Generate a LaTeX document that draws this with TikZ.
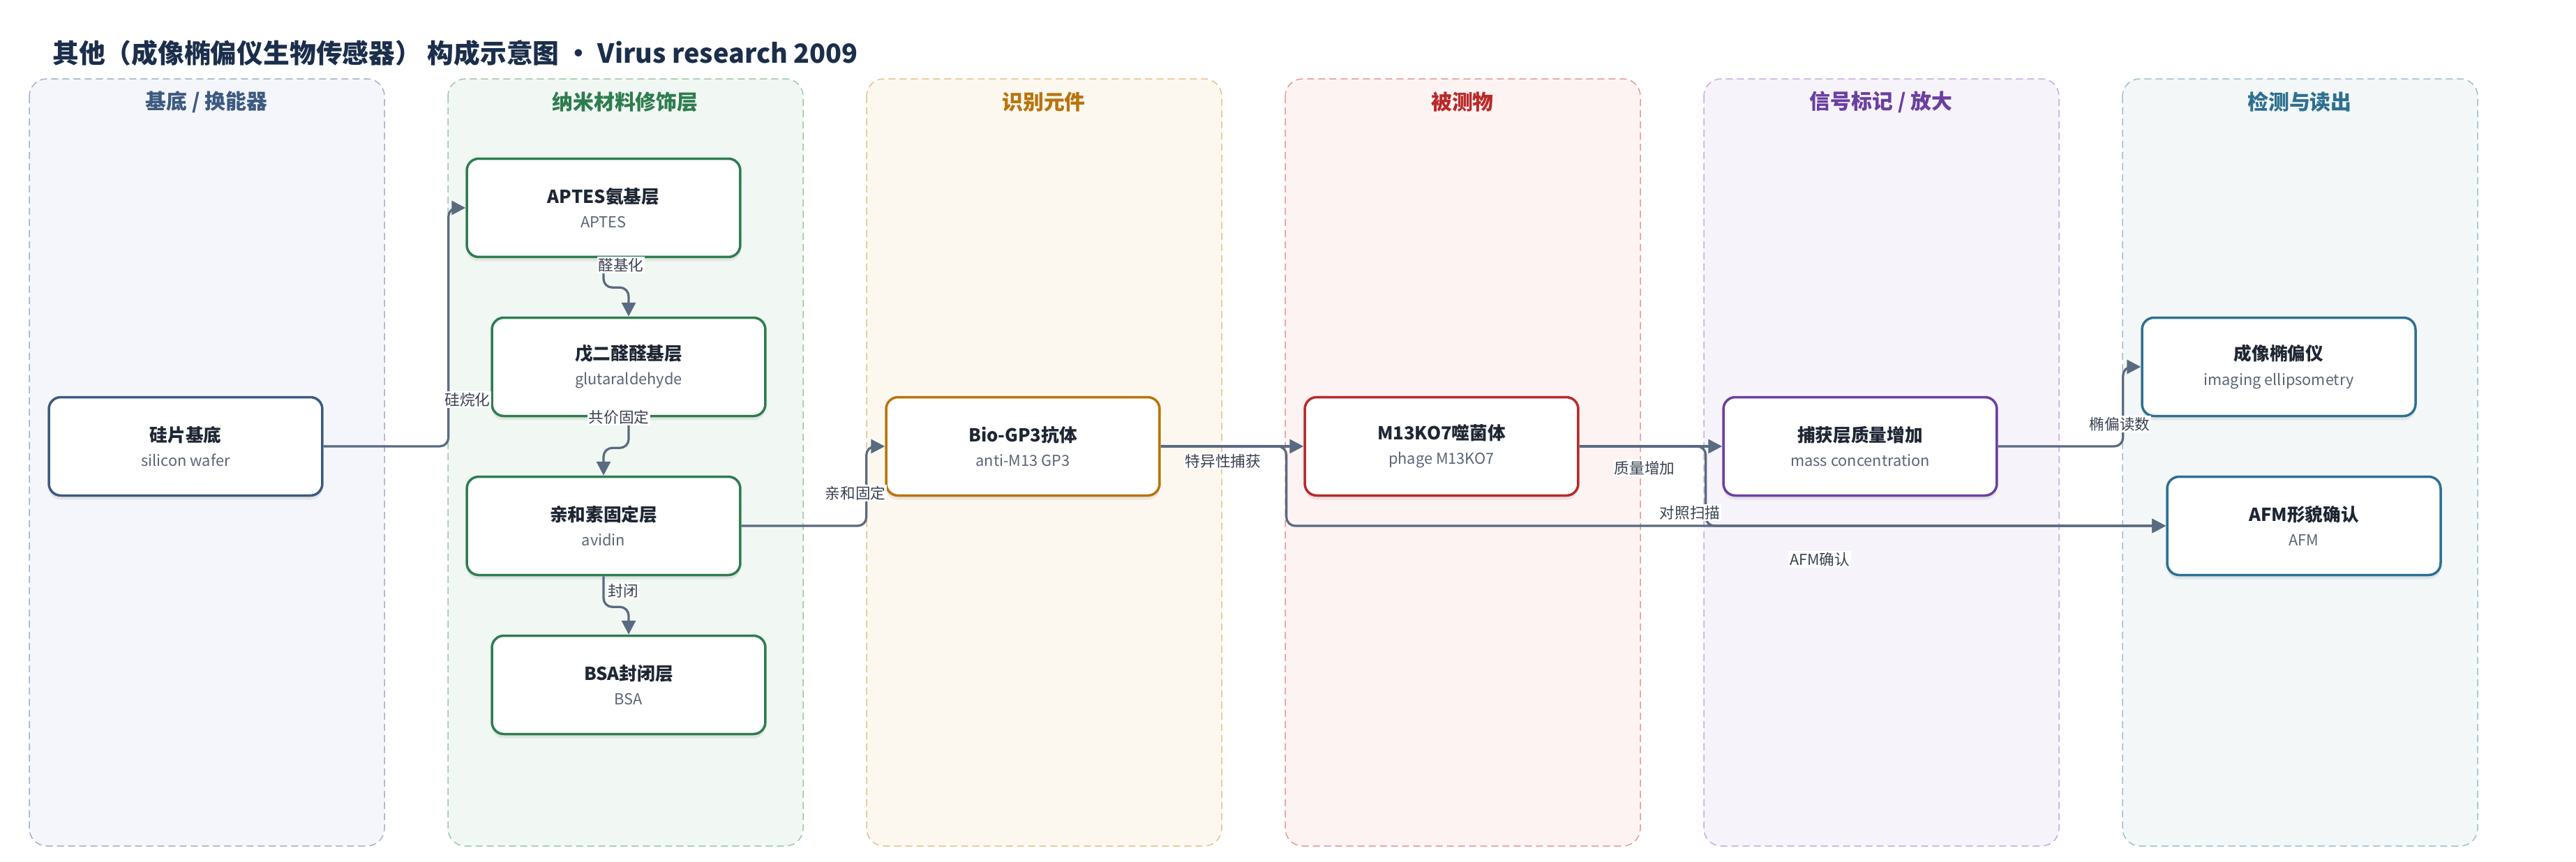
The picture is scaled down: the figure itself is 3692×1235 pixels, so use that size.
\documentclass[tikz,border=0pt]{standalone}
\usepackage{fontspec}
\setmainfont{Noto Sans CJK SC}
\usetikzlibrary{arrows.meta,shadows}

\definecolor{titlecol}{HTML}{1B2E4B}
\definecolor{maincol}{HTML}{1F2633}
\definecolor{subcol}{HTML}{5B6576}
\definecolor{edgecol}{HTML}{5A6A80}
\definecolor{labelcol}{HTML}{3A4150}
\definecolor{navy}{HTML}{3D5A80}
\definecolor{navyline}{HTML}{A3B1C9}
\definecolor{navyfill}{HTML}{F4F6FB}
\definecolor{grn}{HTML}{2E7D4F}
\definecolor{grnline}{HTML}{9DC7A9}
\definecolor{grnfill}{HTML}{F1F8F3}
\definecolor{orng}{HTML}{B8740C}
\definecolor{orngline}{HTML}{E3C48C}
\definecolor{orngfill}{HTML}{FDF8EF}
\definecolor{rd}{HTML}{B82A2A}
\definecolor{rdline}{HTML}{E39A9A}
\definecolor{rdfill}{HTML}{FDF3F2}
\definecolor{purp}{HTML}{6A3FA0}
\definecolor{purpline}{HTML}{C4ADE0}
\definecolor{purpfill}{HTML}{F7F3FB}
\definecolor{teal}{HTML}{2E7090}
\definecolor{tealline}{HTML}{9FC0CC}
\definecolor{tealfill}{HTML}{F3F7F8}

\newcommand{\boxtext}[2]{{\fontsize{14.6pt}{20pt}\selectfont\bfseries\color{maincol}#1}\\{\color{subcol}#2}}

\tikzstyle{lane} = [rounded corners=0.5cm, dash pattern=on 0.2cm off 0.12cm, line width=0.03cm]
\tikzstyle{lanetitle} = [font=\fontsize{17pt}{20pt}\selectfont\bfseries]
\tikzstyle{box} = [rectangle, rounded corners=0.34cm, line width=0.07cm, fill=white, minimum width=7.84cm, minimum height=2.82cm, align=center, font=\fontsize{12.4pt}{20pt}\selectfont, drop shadow={shadow xshift=0cm, shadow yshift=-0.12cm, opacity=0.15}]
\tikzstyle{edge} = [draw=edgecol, line width=0.065cm, rounded corners=0.25cm, -{Triangle[length=0.4cm,width=0.4cm]}]
\tikzstyle{elabel} = [fill=white, inner sep=1pt, text=labelcol, font=\fontsize{12.3pt}{14pt}\selectfont]

\begin{document}
\begin{tikzpicture}[x=0.02cm, y=-0.02cm]

    \useasboundingbox (0,0) rectangle (3692,1235);

    \node (title) [anchor=west, text=titlecol, font=\fontsize{21.5pt}{24pt}\selectfont\bfseries, inner sep=0pt] at (75,76) {其他（成像椭偏仪生物传感器） 构成示意图 · Virus research 2009};

    \draw[lane, draw=navyline, fill=navyfill] (42,113) rectangle (551,1213);
    \draw[lane, draw=grnline, fill=grnfill] (642,113) rectangle (1151,1213);
    \draw[lane, draw=orngline, fill=orngfill] (1242,113) rectangle (1751,1213);
    \draw[lane, draw=rdline, fill=rdfill] (1842,113) rectangle (2351,1213);
    \draw[lane, draw=purpline, fill=purpfill] (2442,113) rectangle (2951,1213);
    \draw[lane, draw=tealline, fill=tealfill] (3042,113) rectangle (3551,1213);

    \node (lane1) [lanetitle, text=navy] at (296,146) {基底 / 换能器};
    \node (lane2) [lanetitle, text=grn] at (896,146) {纳米材料修饰层};
    \node (lane3) [lanetitle, text=orng] at (1496,146) {识别元件};
    \node (lane4) [lanetitle, text=rd] at (2096,146) {被测物};
    \node (lane5) [lanetitle, text=purp] at (2696,146) {信号标记 / 放大};
    \node (lane6) [lanetitle, text=teal] at (3296,146) {检测与读出};

    \node (si) [box, draw=navy] at (266,640) {\boxtext{硅片基底}{silicon wafer}};
    \node (aptes) [box, draw=grn] at (865,298) {\boxtext{APTES氨基层}{APTES}};
    \node (glut) [box, draw=grn] at (901,526) {\boxtext{戊二醛醛基层}{glutaraldehyde}};
    \node (avidin) [box, draw=grn] at (865,754) {\boxtext{亲和素固定层}{avidin}};
    \node (bsa) [box, draw=grn] at (901,982) {\boxtext{BSA封闭层}{BSA}};
    \node (ab) [box, draw=orng] at (1466,640) {\boxtext{Bio-GP3抗体}{anti-M13 GP3}};
    \node (phage) [box, draw=rd] at (2066,640) {\boxtext{M13KO7噬菌体}{phage M13KO7}};
    \node (mass) [box, draw=purp] at (2666,640) {\boxtext{捕获层质量增加}{mass concentration}};
    \node (ie) [box, draw=teal] at (3266,526) {\boxtext{成像椭偏仪}{imaging ellipsometry}};
    \node (afm) [box, draw=teal] at (3302,754) {\boxtext{AFM形貌确认}{AFM}};

    \draw[edge] (si.east) -- ++(179,0) |- (aptes.west);
    \draw[edge] (aptes.south) -- ++(0,42) -| (glut.north);
    \draw[edge] (glut.south) -- ++(0,44) -| (avidin.north);
    \draw[edge] (avidin.south) -- ++(0,44) -| (bsa.north);
    \draw[edge] (avidin.east) -- ++(179,0) |- (ab.west);
    \draw[edge] (ab.east) -- ++(180,0) |- (afm.west);
    \draw[edge] (ab.east) -- (phage.west);
    \draw[edge] (phage.east) -- ++(181,0) |- (afm.west);
    \draw[edge] (phage.east) -- (mass.west);
    \draw[edge] (mass.east) -- ++(179,0) |- (ie.west);

    \node (l1) [elabel] at (670,573) {硅烷化};
    \node (l2) [elabel] at (890,380) {醛基化};
    \node (l3) [elabel] at (887,598) {共价固定};
    \node (l4) [elabel] at (893,847) {封闭};
    \node (l5) [elabel] at (1226,707) {亲和固定};
    \node (l6) [elabel] at (1753,661) {特异性捕获};
    \node (l7) [elabel] at (2357,671) {质量增加};
    \node (l8) [elabel] at (2422,735) {对照扫描};
    \node (l9) [elabel] at (2608,802) {AFM确认};
    \node (l10) [elabel] at (3038,608) {椭偏读数};

\end{tikzpicture}
\end{document}
